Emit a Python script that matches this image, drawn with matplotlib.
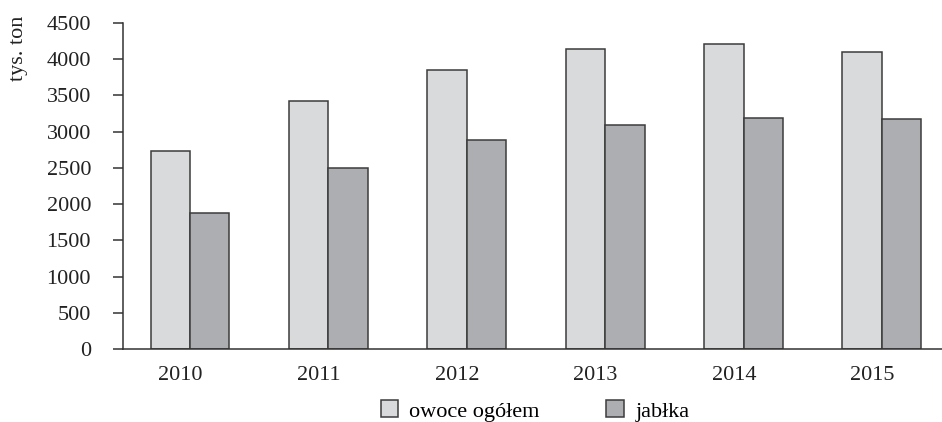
import matplotlib
matplotlib.use("Agg")
from matplotlib import pyplot as plt
from matplotlib.patches import Patch
import numpy as np

years = ["2010", "2011", "2012", "2013", "2014", "2015"]
owoce = [2740, 3425, 3855, 4140, 4205, 4100]
jablka = [1880, 2500, 2885, 3095, 3195, 3175]

plt.rcParams['font.family'] = ['Liberation Serif', 'DejaVu Serif']
plt.rcParams['font.size'] = 16

W, H = 942, 422
fig = plt.figure(figsize=(W / 100, H / 100), dpi=100)
ax = fig.add_axes([123 / W, (H - 349) / H, (W - 123) / W, 326 / H])

x = np.arange(len(years))
bw = 0.285
edge = '#3c3c3c'
c_light = '#d9dadc'
c_dark = '#adaeb1'

ax.bar(x, owoce, width=-bw, align='edge', color=c_light, edgecolor=edge, linewidth=1.1)
ax.bar(x, jablka, width=bw, align='edge', color=c_dark, edgecolor=edge, linewidth=1.1)

ax.set_xlim(-0.484, 5.434)
ax.set_ylim(0, 4500)
ax.set_yticks(np.arange(0, 4501, 500))
ax.set_xticks(x - 0.07)
ax.set_xticklabels(years)

for s in ['top', 'right']:
    ax.spines[s].set_visible(False)
for s in ['left', 'bottom']:
    ax.spines[s].set_color('#333333')
    ax.spines[s].set_linewidth(1.1)

ax.tick_params(axis='x', length=0, pad=12, colors='#222222')
ax.tick_params(axis='y', length=7, width=1.1, pad=16, color='#333333', labelcolor='#222222')

fig.text(18 / W, 1 - 48 / H, 'tys. ton', rotation=90, ha='center', va='center', color='#222222')

handles = [Patch(facecolor=c_light, edgecolor=edge, linewidth=1.1),
           Patch(facecolor=c_dark, edgecolor=edge, linewidth=1.1)]
fig.legend(handles, ['owoce ogółem', 'jabłka'], loc='center', ncol=2,
           bbox_to_anchor=(535 / W, 1 - 411 / H), frameon=False,
           handlelength=0.8, handleheight=0.8, handletextpad=0.5,
           columnspacing=3.0, borderpad=0, borderaxespad=0)

fig.savefig('out.png', dpi=100)
